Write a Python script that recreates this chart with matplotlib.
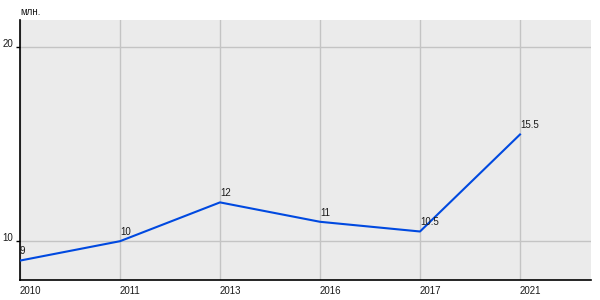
import matplotlib
matplotlib.use("Agg")
import matplotlib.pyplot as plt

plt.rcParams['font.family'] = ['Liberation Sans', 'DejaVu Sans']

# данные
years = ["2010", "2011", "2013", "2016", "2017", "2021"]
values = [9, 10, 12, 11, 10.5, 15.5]
value_labels = ["9", "10", "12", "11", "10.5", "15.5"]
y_ticks = [10, 20]

fig = plt.figure(figsize=(6, 3), dpi=100)
ax = fig.add_axes([20 / 600, 20 / 300, 571 / 600, 260 / 300])
ax.set_facecolor('#ebebeb')

x = list(range(len(years)))
ax.plot(x, values, color='#0049e0', linewidth=1.5, zorder=3)

for xi, v, lab in zip(x, values, value_labels):
    ax.annotate(lab, (xi, v), xytext=(0, 3), textcoords='offset points',
                ha='left', va='bottom', fontsize=7, color='#1a1a1a', zorder=4)

ax.set_xlim(0, 5.71)
ax.set_ylim(8, 21.4)

ax.set_xticks(x)
ax.set_xticklabels(years, ha='left')
ax.set_yticks(y_ticks)
ax.set_yticklabels([str(t) for t in y_ticks], va='baseline')

ax.grid(True, color='#c4c4c4', linewidth=1)
ax.set_axisbelow(True)
ax.tick_params(axis='x', length=0, labelsize=7, pad=4, labelcolor='#1a1a1a')
ax.tick_params(axis='y', length=3, width=1, labelsize=7, pad=2, labelcolor='#1a1a1a')

for side in ['top', 'right']:
    ax.spines[side].set_visible(False)
for side in ['left', 'bottom']:
    ax.spines[side].set_color('black')
    ax.spines[side].set_linewidth(1.2)

fig.text(20 / 600, 1 - 12 / 300, 'млн.', fontsize=7, ha='left', va='center',
         color='#1a1a1a')

fig.savefig('out.png', dpi=100)
